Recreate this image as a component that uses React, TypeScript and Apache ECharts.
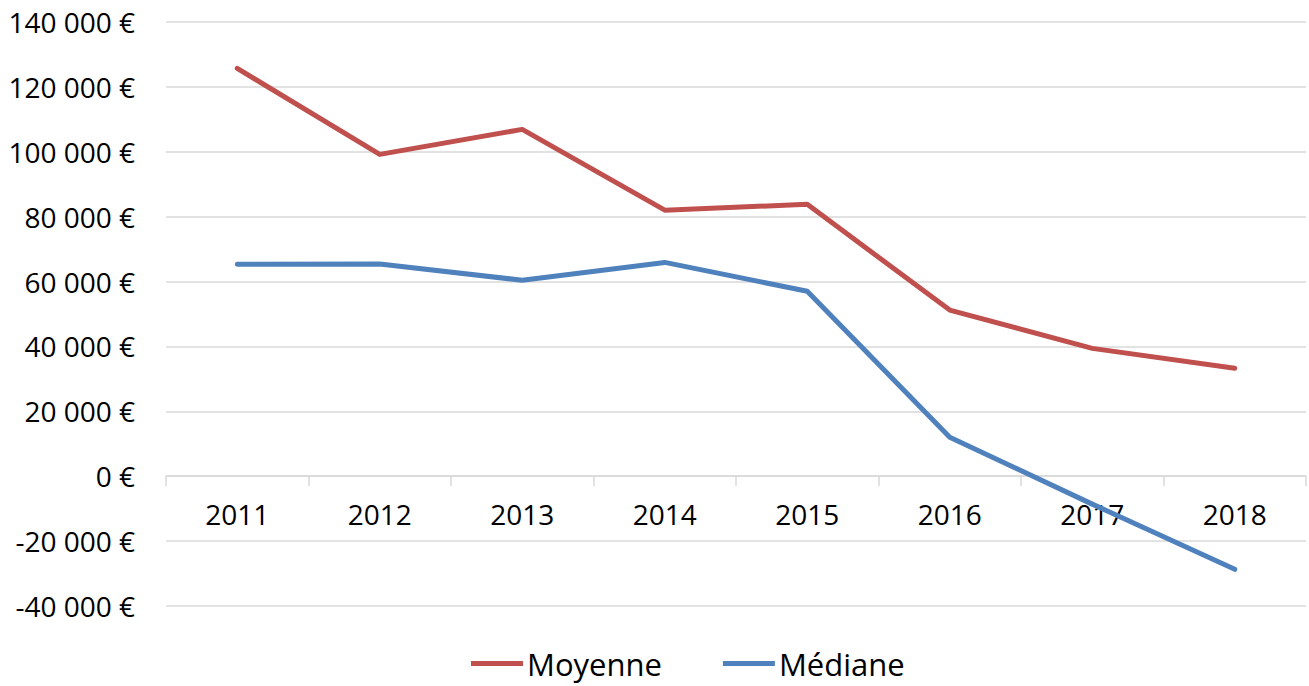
import React, { useEffect, useRef } from "react";
import * as echarts from "echarts";

const years = ["2011", "2012", "2013", "2014", "2015", "2016", "2017", "2018"];
const moyenne = [125700, 99200, 106900, 82000, 83800, 51200, 39400, 33300];
const mediane = [65300, 65400, 60400, 65900, 57000, 12000, -8600, -28700];
const yMin = -40000;
const yMax = 140000;
const yStep = 20000;

function fmt(v: number): string {
  const s = Math.abs(v).toString().replace(/\B(?=(\d{3})+(?!\d))/g, " ");
  return (v < 0 ? "-" : "") + s + " €";
}

export default function App() {
  const ref = useRef<HTMLDivElement>(null);
  useEffect(() => {
    if (!ref.current) return;
    const chart = echarts.init(ref.current, null, { renderer: "svg" });
    const font = "'Open Sans', 'Noto Sans', sans-serif";
    const gridTop = 22;
    const gridBottom = 80;
    const plotH = 686 - gridTop - gridBottom;
    const zeroOffset = -Math.round((plotH * (0 - yMin)) / (yMax - yMin));
    chart.setOption({
      animation: false,
      backgroundColor: "#ffffff",
      textStyle: { fontFamily: font },
      grid: { left: 166, right: 3, top: gridTop, bottom: gridBottom, containLabel: false },
      legend: {
        bottom: 2,
        left: 466,
        icon: "rect",
        itemWidth: 52,
        itemHeight: 5,
        itemGap: 61,
        textStyle: { fontSize: 31, color: "#000", fontFamily: font, padding: [0, 0, 0, -1] },
        data: ["Moyenne", "Médiane"],
      },
      xAxis: {
        type: "category",
        data: years,
        boundaryGap: true,
        position: "bottom",
        offset: zeroOffset,
        axisLine: { onZero: false, lineStyle: { color: "#d9d9d9", width: 1.5 } },
        axisTick: { show: true, length: 10, inside: false, lineStyle: { color: "#d9d9d9", width: 1.5 } },
        axisLabel: { fontSize: 28, color: "#000", margin: 24, fontFamily: font },
        splitLine: { show: false },
      },
      yAxis: {
        type: "value",
        min: yMin,
        max: yMax,
        interval: yStep,
        axisLine: { show: false },
        axisTick: { show: false },
        axisLabel: { fontSize: 28, color: "#000", margin: 31, fontFamily: font, formatter: (v: number) => fmt(v) },
        splitLine: { lineStyle: { color: "#d9d9d9", width: 1.5 } },
      },
      series: [
        {
          name: "Moyenne",
          type: "line",
          data: moyenne,
          symbol: "none",
          color: "#c0504d",
          lineStyle: { width: 5, color: "#c0504d", cap: "round", join: "round" },
        },
        {
          name: "Médiane",
          type: "line",
          data: mediane,
          symbol: "none",
          color: "#4f81bd",
          lineStyle: { width: 5, color: "#4f81bd", cap: "round", join: "round" },
        },
      ],
    });
    return () => chart.dispose();
  }, []);
  return (
    <div
      ref={ref}
      style={{ position: "fixed", left: 0, top: 0, width: 1309, height: 686, background: "#fff" }}
    />
  );
}
